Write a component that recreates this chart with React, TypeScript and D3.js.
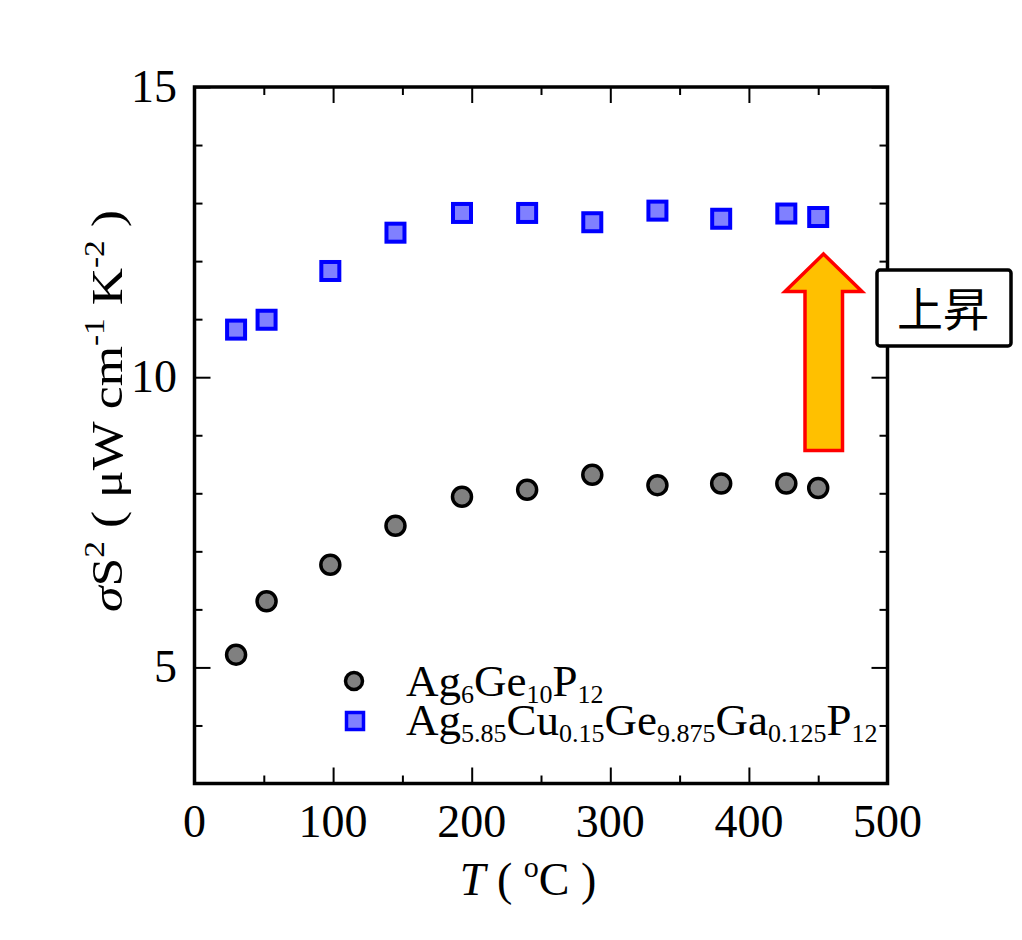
import { useEffect, useRef } from "react";
import * as d3 from "d3";

// temperature (°C) and σS² (µW cm^-1 K^-2)
const tempBase = [30, 52, 98, 145, 193, 240, 287, 334, 380, 427, 450];
const pfBase = [5.22, 6.14, 6.77, 7.44, 7.94, 8.06, 8.32, 8.14, 8.17, 8.17, 8.09];

const tempDoped = [30, 52, 98, 145, 193, 240, 287, 334, 380, 427, 450];
const pfDoped = [10.82, 10.99, 11.83, 12.49, 12.83, 12.83, 12.67, 12.87, 12.73, 12.82, 12.76];

const xMajor = [0, 100, 200, 300, 400, 500];
const xMinor = [50, 150, 250, 350, 450];
const yMajor = [5, 10, 15];
const yMinor = [3, 4, 6, 7, 8, 9, 11, 12, 13, 14];

const legendBase: [string, string][] = [
  ["Ag", "6"],
  ["Ge", "10"],
  ["P", "12"],
];
const legendDoped: [string, string][] = [
  ["Ag", "5.85"],
  ["Cu", "0.15"],
  ["Ge", "9.875"],
  ["Ga", "0.125"],
  ["P", "12"],
];

const SERIF = "'Times New Roman', 'Liberation Serif', serif";

export default function App() {
  const svgRef = useRef<SVGSVGElement>(null);

  useEffect(() => {
    if (!svgRef.current) return;
    const svg = d3.select(svgRef.current);
    svg.selectAll("*").remove();

    const left = 194.5;
    const right = 887.5;
    const top = 87;
    const bottom = 783.5;

    const x = d3.scaleLinear().domain([0, 500]).range([left, right]);
    const y = d3.scaleLinear().domain([3, 15]).range([bottom, top]);

    const g = svg.append("g");

    // inward ticks on all four sides
    const tickStyle = (sel: any) => {
      sel.select(".domain").remove();
      sel.selectAll("line").attr("stroke", "#000").attr("stroke-width", 2);
    };
    const noLabel = () => "";
    g.append("g")
      .attr("transform", `translate(0,${bottom})`)
      .call(d3.axisBottom(x).tickValues(xMajor).tickSize(-16).tickFormat(noLabel))
      .call(tickStyle);
    g.append("g")
      .attr("transform", `translate(0,${bottom})`)
      .call(d3.axisBottom(x).tickValues(xMinor).tickSize(-8).tickFormat(noLabel))
      .call(tickStyle);
    g.append("g")
      .attr("transform", `translate(0,${top})`)
      .call(d3.axisTop(x).tickValues(xMajor).tickSize(-16).tickFormat(noLabel))
      .call(tickStyle);
    g.append("g")
      .attr("transform", `translate(0,${top})`)
      .call(d3.axisTop(x).tickValues(xMinor).tickSize(-8).tickFormat(noLabel))
      .call(tickStyle);
    g.append("g")
      .attr("transform", `translate(${left},0)`)
      .call(d3.axisLeft(y).tickValues(yMajor).tickSize(-16).tickFormat(noLabel))
      .call(tickStyle);
    g.append("g")
      .attr("transform", `translate(${left},0)`)
      .call(d3.axisLeft(y).tickValues(yMinor).tickSize(-8).tickFormat(noLabel))
      .call(tickStyle);
    g.append("g")
      .attr("transform", `translate(${right},0)`)
      .call(d3.axisRight(y).tickValues(yMajor).tickSize(-16).tickFormat(noLabel))
      .call(tickStyle);
    g.append("g")
      .attr("transform", `translate(${right},0)`)
      .call(d3.axisRight(y).tickValues(yMinor).tickSize(-8).tickFormat(noLabel))
      .call(tickStyle);

    g.append("rect")
      .attr("x", left)
      .attr("y", top)
      .attr("width", right - left)
      .attr("height", bottom - top)
      .attr("fill", "none")
      .attr("stroke", "#000")
      .attr("stroke-width", 3.5);

    // tick labels
    g.selectAll(".xl")
      .data(xMajor)
      .enter()
      .append("text")
      .attr("x", (d) => x(d))
      .attr("y", 837)
      .attr("text-anchor", "middle")
      .attr("font-family", SERIF)
      .attr("font-size", 46)
      .text((d) => d);
    g.selectAll(".yl")
      .data(yMajor)
      .enter()
      .append("text")
      .attr("x", 177)
      .attr("y", (d) => y(d) + 15)
      .attr("text-anchor", "end")
      .attr("font-family", SERIF)
      .attr("font-size", 46)
      .text((d) => d);

    // axis titles
    const xt = g
      .append("text")
      .attr("x", 528)
      .attr("y", 895)
      .attr("text-anchor", "middle")
      .attr("font-family", SERIF)
      .attr("font-size", 46);
    xt.append("tspan").attr("font-style", "italic").text("T");
    xt.append("tspan").text(" ( ");
    xt.append("tspan").attr("font-size", 30).attr("dy", -18).text("o");
    xt.append("tspan").attr("dy", 18).text("C )");

    const yt = g
      .append("text")
      .attr("transform", "translate(122,411) rotate(-90) scale(1.15,1)")
      .attr("text-anchor", "middle")
      .attr("font-family", SERIF)
      .attr("font-size", 45);
    yt.append("tspan").attr("font-style", "italic").text("σ");
    yt.append("tspan").text("S");
    yt.append("tspan").attr("font-size", 29).attr("dy", -18).text("2");
    yt.append("tspan").attr("dy", 18).text(" ( μW cm");
    yt.append("tspan").attr("font-size", 29).attr("dy", -18).text("-1");
    yt.append("tspan").attr("dy", 18).text(" K");
    yt.append("tspan").attr("font-size", 29).attr("dy", -18).text("-2");
    yt.append("tspan").attr("dy", 18).text(" )");

    // data markers
    const sq = 18;
    g.selectAll(".doped")
      .data(tempDoped.map((t, i) => [t, pfDoped[i]]))
      .enter()
      .append("rect")
      .attr("x", (d) => x(d[0]) - sq / 2)
      .attr("y", (d) => y(d[1]) - sq / 2)
      .attr("width", sq)
      .attr("height", sq)
      .attr("fill", "#8080ff")
      .attr("stroke", "#0000ff")
      .attr("stroke-width", 4);

    g.selectAll(".base")
      .data(tempBase.map((t, i) => [t, pfBase[i]]))
      .enter()
      .append("circle")
      .attr("cx", (d) => x(d[0]))
      .attr("cy", (d) => y(d[1]))
      .attr("r", 9.5)
      .attr("fill", "#808080")
      .attr("stroke", "#000")
      .attr("stroke-width", 3.5);

    // legend
    g.append("circle")
      .attr("cx", 354)
      .attr("cy", 681)
      .attr("r", 8.5)
      .attr("fill", "#808080")
      .attr("stroke", "#000")
      .attr("stroke-width", 3.5);
    g.append("rect")
      .attr("x", 355 - 8.5)
      .attr("y", 721 - 8.5)
      .attr("width", 17)
      .attr("height", 17)
      .attr("fill", "#8080ff")
      .attr("stroke", "#0000ff")
      .attr("stroke-width", 3.5);

    const formula = (parts: [string, string][], yy: number) => {
      const t = g
        .append("text")
        .attr("x", 406)
        .attr("y", yy)
        .attr("font-family", SERIF)
        .attr("font-size", 45);
      let shift = 0;
      parts.forEach(([main, sub]) => {
        t.append("tspan").attr("dy", -shift).text(main);
        shift = 0;
        if (sub) {
          t.append("tspan").attr("font-size", 26).attr("dy", 7).text(sub);
          shift = 7;
        }
      });
    };
    formula(legendBase, 696);
    formula(legendDoped, 735);

    // up arrow annotation
    const arrow = d3.path();
    arrow.moveTo(823.5, 254);
    arrow.lineTo(862, 291.5);
    arrow.lineTo(842.5, 291.5);
    arrow.lineTo(842.5, 450.5);
    arrow.lineTo(805, 450.5);
    arrow.lineTo(805, 291.5);
    arrow.lineTo(785, 291.5);
    arrow.closePath();
    g.append("path")
      .attr("d", arrow.toString())
      .attr("fill", "#ffc000")
      .attr("stroke", "#ff0000")
      .attr("stroke-width", 3.5)
      .attr("stroke-linejoin", "miter");

    g.append("rect")
      .attr("x", 877)
      .attr("y", 270)
      .attr("width", 134)
      .attr("height", 76)
      .attr("rx", 3)
      .attr("fill", "#fff")
      .attr("stroke", "#000")
      .attr("stroke-width", 3.5);
    g.append("text")
      .attr("x", 943)
      .attr("y", 326)
      .attr("text-anchor", "middle")
      .attr("font-family", "'Noto Sans CJK JP', sans-serif")
      .attr("font-size", 46)
      .attr("fill", "#000")
      .text("上昇");
  }, []);

  return (
    <svg
      ref={svgRef}
      width={1022}
      height={940}
      style={{ position: "absolute", left: 0, top: 0, background: "#fff" }}
    />
  );
}
